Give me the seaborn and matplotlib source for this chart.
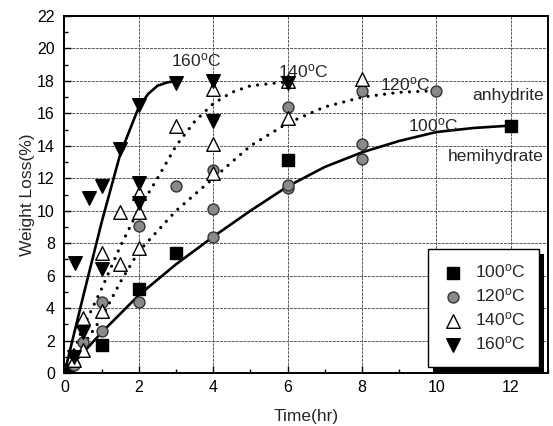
import matplotlib
matplotlib.use("Agg")
import matplotlib.pyplot as plt
import seaborn as sns
import pandas as pd
from matplotlib.ticker import MultipleLocator
from matplotlib.patches import Rectangle

# ---- measured points ----
t100 = [0.1, 1, 2, 3, 6, 12]
w100 = [0.2, 1.7, 5.2, 7.4, 13.1, 15.2]

t120 = [0.25, 0.5, 1, 1, 2, 2, 3, 4, 4, 4, 6, 6, 6, 8, 8, 8, 10]
w120 = [0.5, 1.9, 2.6, 4.4, 4.4, 9.05, 11.5, 8.4, 10.1, 12.5, 11.4, 11.6, 16.4, 13.2, 14.1, 17.4, 17.35]

t140 = [0.25, 0.5, 0.5, 1, 1, 1.5, 1.5, 2, 2, 2, 3, 4, 4, 4, 6, 6, 8]
w140 = [0.8, 1.4, 3.4, 3.8, 7.4, 6.7, 9.95, 7.7, 9.95, 11.1, 15.2, 12.3, 14.1, 17.5, 15.7, 18.0, 18.1]

t160 = [0.25, 0.28, 0.5, 0.65, 1, 1, 1.5, 2, 2, 2, 3, 4, 4, 6]
w160 = [1.0, 6.8, 2.5, 10.8, 6.4, 11.5, 13.8, 10.5, 11.7, 16.5, 17.9, 15.5, 18.0, 17.9]

# ---- fitted curves ----
c100_t = [0, 1, 2, 3, 4, 5, 6, 7, 8, 9, 10, 11, 12]
c100_w = [0, 2.5, 4.8, 6.7, 8.4, 10.0, 11.5, 12.7, 13.6, 14.3, 14.85, 15.1, 15.25]
c120_t = [0, 0.5, 1, 1.5, 2, 3, 4, 5, 6, 7, 8, 9, 10]
c120_w = [0, 1.7, 3.4, 5.6, 7.5, 10.0, 12.0, 14.0, 15.4, 16.4, 17.0, 17.3, 17.4]
c140_t = [0, 0.5, 1, 1.5, 2, 2.5, 3, 3.5, 4, 4.5, 5, 6]
c140_w = [0, 2.8, 5.2, 7.8, 10.1, 12.0, 14.0, 15.5, 16.6, 17.3, 17.7, 17.95]
c160_t = [0, 0.5, 1, 1.5, 2, 2.25, 2.5, 2.75, 3]
c160_w = [0, 4.7, 9.3, 13.5, 16.4, 17.2, 17.7, 17.9, 18.0]

labels = ["100", "120", "140", "160"]
deg = r"$^{\mathrm{o}}$C"

sns.set_theme(style="ticks")
plt.rcParams["font.family"] = ["Liberation Sans", "DejaVu Sans"]
plt.rcParams["mathtext.fontset"] = "custom"
plt.rcParams["mathtext.rm"] = "Liberation Sans"
plt.rcParams["mathtext.it"] = "Liberation Sans"

fig = plt.figure(figsize=(5.53, 4.26), dpi=100)
ax = fig.add_axes([0.1166, 0.1244, 0.8744, 0.838])

# curves
curves = [(c100_t, c100_w, "-"), (c120_t, c120_w, ":"), (c140_t, c140_w, ":"), (c160_t, c160_w, "-")]
for ct, cw, ls in curves:
    df = pd.DataFrame({"t": ct, "w": cw})
    if ls == "-":
        sns.lineplot(data=df, x="t", y="w", ax=ax, color="black", lw=1.9, sort=False,
                     estimator=None, legend=False)
    else:
        sns.lineplot(data=df, x="t", y="w", ax=ax, color="black", lw=2.3, sort=False,
                     estimator=None, legend=False, linestyle=(0, (0.01, 2.6)),
                     dash_capstyle="round")

# markers
series = [
    (t100, w100, "s", "black", "black", 65),
    (t120, w120, "o", "#8a8a8a", "#333333", 62),
    (t140, w140, "^", "white", "black", 95),
    (t160, w160, "v", "black", "black", 95),
]
for (tt, ww, mk, fc, ec, s), lab in zip(series, labels):
    df = pd.DataFrame({"t": tt, "w": ww})
    sns.scatterplot(data=df, x="t", y="w", ax=ax, marker=mk, color=fc, edgecolor=ec,
                    linewidth=1.0, s=s, label=lab + deg, zorder=5)

ax.set_xlim(0, 13)
ax.set_ylim(0, 22)
ax.xaxis.set_major_locator(MultipleLocator(2))
ax.xaxis.set_minor_locator(MultipleLocator(1))
ax.yaxis.set_major_locator(MultipleLocator(2))
ax.yaxis.set_minor_locator(MultipleLocator(1))
ax.set_xticks([0, 2, 4, 6, 8, 10, 12])
ax.tick_params(axis="both", which="both", direction="in", labelsize=11.5, colors="black",
               top=False, right=False)
ax.tick_params(axis="y", which="major", pad=7)
ax.tick_params(axis="x", which="major", pad=5)
ax.tick_params(which="major", length=5, width=1)
ax.tick_params(which="minor", length=3, width=1)
ax.grid(True, which="major", color="0.35", linestyle=(0, (3, 1)), linewidth=0.7)
for sp in ax.spines.values():
    sp.set_visible(True)
    sp.set_color("black")
    sp.set_linewidth(1.4)

ax.set_xlabel("Time(hr)", fontsize=12.5)
ax.set_ylabel("Weight Loss(%)", fontsize=12.5)
ax.yaxis.set_label_coords(-0.062, 0.5)
ax.xaxis.set_label_coords(0.5, -0.1)

ax.text(3.55, 19.3, "160" + deg, fontsize=12.5, ha="center", va="center")
ax.text(6.42, 18.6, "140" + deg, fontsize=12.5, ha="center", va="center")
ax.text(9.15, 17.8, "120" + deg, fontsize=12.5, ha="center", va="center")
ax.text(9.91, 15.25, "100" + deg, fontsize=12.5, ha="center", va="center")
ax.text(11.93, 17.1, "anhydrite", fontsize=12.5, ha="center", va="center")
ax.text(11.6, 13.35, "hemihydrate", fontsize=12.5, ha="center", va="center")

leg = ax.legend(loc="lower right", bbox_to_anchor=(0.982, 0.018), fontsize=12.5,
                frameon=True, fancybox=False, shadow=False, borderaxespad=0,
                edgecolor="black", framealpha=1, handletextpad=0.7, borderpad=0.8,
                labelspacing=0.35, handlelength=1.2)
leg.get_frame().set_linewidth(1.0)
leg.set_zorder(10)

fig.canvas.draw()
bb = leg.get_frame().get_window_extent()
ax.add_patch(Rectangle((bb.x0 + 5, bb.y0 - 5), bb.width, bb.height, transform=None,
                       facecolor="black", edgecolor="none", zorder=9, clip_on=False))

fig.savefig("out.png", dpi=100)
